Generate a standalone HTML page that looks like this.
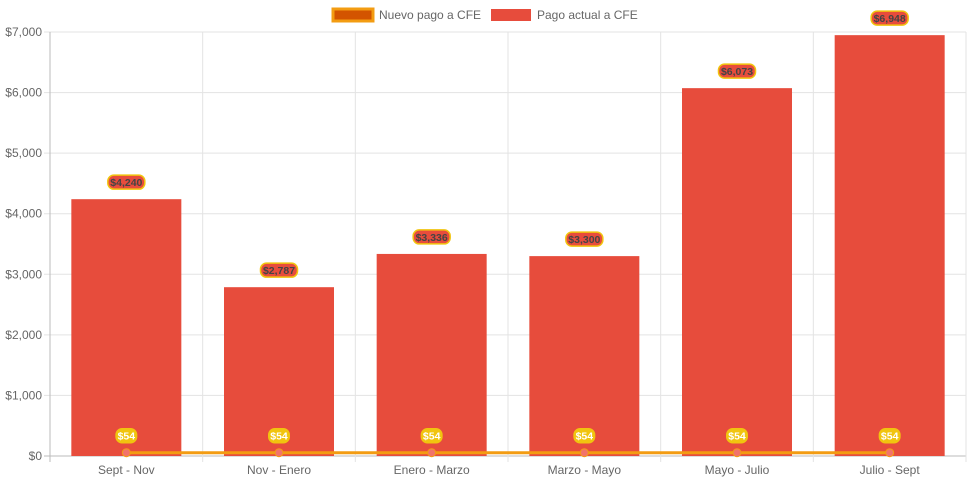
<!DOCTYPE html>
<html><head><meta charset="utf-8">
<style>
html,body{margin:0;padding:0;background:#fff;}
svg{display:block;font-family:"Liberation Sans",sans-serif;}
</style></head>
<body>
<svg id="chart" width="971" height="485"></svg>
<script>
const categories = ["Sept - Nov","Nov - Enero","Enero - Marzo","Marzo - Mayo","Mayo - Julio","Julio - Sept"];
const actualValues = [4240, 2787, 3336, 3300, 6073, 6948];
const newValues = [54, 54, 54, 54, 54, 54];
const yTicks = [0,1000,2000,3000,4000,5000,6000,7000];
const yTickLabels = ["$0","$1,000","$2,000","$3,000","$4,000","$5,000","$6,000","$7,000"];

const NS = "http://www.w3.org/2000/svg";
const svg = document.getElementById('chart');
const L = 50, R = 966, T = 32, B = 456, yMax = 7000;
const band = (R - L) / categories.length;
const barW = 110;
function x(i){ return L + band * (i + 0.5); }
function y(v){ return B - (v / yMax) * (B - T); }
function fmt(v){ return "$" + v.toLocaleString("en-US"); }
function mk(tag, attrs, parent){
  const e = document.createElementNS(NS, tag);
  for (const k in attrs) e.setAttribute(k, attrs[k]);
  (parent || svg).appendChild(e);
  return e;
}

const grid = mk('g', {});


yTicks.forEach((t, i) => {
  mk('line', {x1: L - 6, x2: R, y1: y(t), y2: y(t), stroke: i === 0 ? '#bbb' : '#e3e3e3', 'stroke-width': 1}, grid);
  const lb = mk('text', {x: L - 8, y: y(t) + 4, 'text-anchor': 'end', 'font-size': 12, fill: '#666'});
  lb.textContent = yTickLabels[i];
  
  
});
for (let i = 0; i <= categories.length; i++) {
  const gx = L + band * i;
  mk('line', {x1: gx, x2: gx, y1: T, y2: B + 6, stroke: i === 0 ? '#bbb' : '#e3e3e3', 'stroke-width': 1}, grid);
}
categories.forEach((c, i) => {
  const t = mk('text', {x: x(i), y: B + 18, 'text-anchor': 'middle', 'font-size': 12, fill: '#666'});
  t.textContent = c;
  
  
});

actualValues.forEach((v, i) => {
  const r = mk('rect', {x: x(i) - barW / 2, y: y(v), width: barW, height: B - y(v), fill: '#e74c3c'});
  
  
});

const pts = newValues.map((v, i) => x(i) + ',' + y(v)).join(' ');
const pl = mk('polyline', {points: pts, fill: 'none', stroke: '#f39c12', 'stroke-width': 3});


newValues.forEach((v, i) => {
  const c = mk('circle', {cx: x(i), cy: y(v), r: 4, fill: '#f1736a', stroke: '#f39c12', 'stroke-width': 1});
  
  
});

function label(cx, cy, text, fill, stroke, color, name){
  const g = mk('g', {});
  
  
  const w = text.length * 5.5 + 4;
  mk('rect', {x: cx - w / 2, y: cy - 7, width: w, height: 14, rx: 6, fill: fill, stroke: stroke, 'stroke-width': 1.5}, g);
  const t = mk('text', {x: cx, y: cy + 4, 'text-anchor': 'middle', 'font-size': 10.5, 'font-weight': 'bold', fill: color}, g);
  t.textContent = text;
}
actualValues.forEach((v, i) => label(x(i), y(v) - 17, fmt(v), '#e74c3c', '#f1c40f', '#444', 'bar-value-label'));
newValues.forEach((v, i) => label(x(i), y(v) - 17, fmt(v), '#f1c40f', '#f1c40f', '#fff', 'line-value-label'));

const lg = mk('g', {});


const e1 = mk('g', {}, lg);


mk('rect', {x: 333, y: 9, width: 40, height: 12, fill: '#d35400', stroke: '#f39c12', 'stroke-width': 3}, e1);
const t1 = mk('text', {x: 379, y: 19, 'font-size': 12, fill: '#666'}, e1);
t1.textContent = 'Nuevo pago a CFE';
const e2 = mk('g', {}, lg);


mk('rect', {x: 491, y: 9, width: 40, height: 12, fill: '#e74c3c'}, e2);
const t2 = mk('text', {x: 537, y: 19, 'font-size': 12, fill: '#666'}, e2);
t2.textContent = 'Pago actual a CFE';
</script>
</body></html>
